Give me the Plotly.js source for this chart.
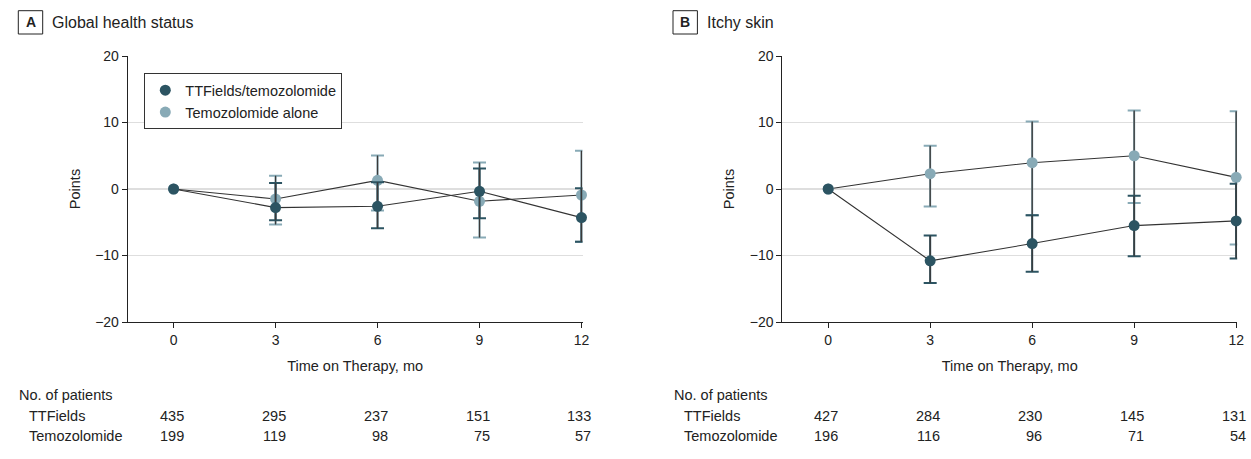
<!DOCTYPE html>
<html>
<head>
<meta charset="utf-8">
<script src="https://cdn.plot.ly/plotly-3.0.1.min.js"></script>
<style>
  html, body { margin: 0; padding: 0; background: #fff; }
  #chart { width: 1251px; height: 459px; }
</style>
</head>
<body>
<div id="chart"></div>
<script>
// ---------------- data ----------------
const months = [0, 3, 6, 9, 12];
const seriesNames = ['TTFields/temozolomide', 'Temozolomide alone'];
const panelLetters = ['A', 'B'];
const panelTitles = ['Global health status', 'Itchy skin'];
const rowLabels = ['TTFields', 'Temozolomide'];
const tableHeader = 'No. of patients';
const xTitle = 'Time on Therapy, mo';
const yTitle = 'Points';

// Panel A: Global health status (mean change, 95% CI ends)
const ghsTT      = [0, -2.8, -2.6, -0.35, -4.3];
const ghsTTUpper = [null, 0.9, 1.0, 3.1, 0.1];
const ghsTTLower = [null, -4.7, -5.9, -4.4, -7.95];
const ghsTMZ      = [0, -1.5, 1.3, -1.85, -0.9];
const ghsTMZUpper = [null, 2.0, 5.05, 4.0, 5.75];
const ghsTMZLower = [null, -5.35, -3.25, -7.3, -7.95];

// Panel B: Itchy skin
const itchTT      = [0, -10.8, -8.2, -5.5, -4.8];
const itchTTUpper = [null, -7.0, -3.95, -1.0, 0.8];
const itchTTLower = [null, -14.15, -12.45, -10.1, -10.45];
const itchTMZ      = [0, 2.3, 3.95, 5.0, 1.75];
const itchTMZUpper = [null, 6.5, 10.15, 11.8, 11.7];
const itchTMZLower = [null, -2.65, -3.95, -2.1, -8.35];

// Numbers at risk
const ghsNTT  = [435, 295, 237, 151, 133];
const ghsNTMZ = [199, 119, 98, 75, 57];
const itchNTT  = [427, 284, 230, 145, 131];
const itchNTMZ = [196, 116, 96, 71, 54];

// ---------------- style ----------------
const FONT = '"Liberation Sans", Arial, sans-serif';
const DARK = '#2c5462';
const LIGHT = '#88aab6';
const STEM = '#3a3a3a';
const TEXT = '#222222';
const W = 1251, H = 459;
const px = v => v / W;
const py = v => 1 - v / H;

const traces = [];

function addSeries(xa, ya, vals, upper, lower, color, name, showLegend, rank) {
  const xs = [], ys = [], plus = [], minus = [];
  months.forEach((m, i) => {
    if (upper[i] === null) return;
    xs.push(m); ys.push(vals[i]);
    plus.push(upper[i] - vals[i]);
    minus.push(vals[i] - lower[i]);
  });
  // caps (coloured)
  traces.push({
    x: xs, y: ys, xaxis: xa, yaxis: ya, type: 'scatter', mode: 'markers',
    marker: { size: 1, opacity: 0 }, showlegend: false, hoverinfo: 'skip',
    error_y: { type: 'data', symmetric: false, array: plus, arrayminus: minus,
               color: color, thickness: 2, width: 6.5 }
  });
  // stems (dark)
  traces.push({
    x: xs, y: ys, xaxis: xa, yaxis: ya, type: 'scatter', mode: 'markers',
    marker: { size: 1, opacity: 0 }, showlegend: false, hoverinfo: 'skip',
    error_y: { type: 'data', symmetric: false, array: plus, arrayminus: minus,
               color: STEM, thickness: 1.3, width: 0 }
  });
  // connecting line
  traces.push({
    x: months, y: vals, xaxis: xa, yaxis: ya, type: 'scatter', mode: 'lines',
    line: { color: '#333333', width: 1.1 }, showlegend: false, hoverinfo: 'skip'
  });
  // markers
  traces.push({
    x: months, y: vals, xaxis: xa, yaxis: ya, type: 'scatter', mode: 'markers',
    marker: { size: 11, color: color }, name: name, showlegend: showLegend,
    legendrank: rank, hoverinfo: 'skip', cliponaxis: false
  });
}

addSeries('x', 'y', ghsTMZ, ghsTMZUpper, ghsTMZLower, LIGHT, seriesNames[1], true, 2);
addSeries('x', 'y', ghsTT, ghsTTUpper, ghsTTLower, DARK, seriesNames[0], true, 1);
addSeries('x2', 'y2', itchTMZ, itchTMZUpper, itchTMZLower, LIGHT, seriesNames[1], false, 2);
addSeries('x2', 'y2', itchTT, itchTTUpper, itchTTLower, DARK, seriesNames[0], false, 1);

// ---------------- axes ----------------
const yDomain = [py(322), py(56)];
function xAxis(domain, anchor) {
  return {
    domain: domain, anchor: anchor, range: [-1.35, 12.03],
    tickvals: months, ticktext: months.map(String),
    ticks: 'outside', ticklen: 5, tickwidth: 1, tickcolor: '#222',
    showline: true, linecolor: '#222', linewidth: 1,
    showgrid: false, zeroline: false,
    tickfont: { family: FONT, size: 14, color: TEXT },
    title: { text: xTitle, font: { family: FONT, size: 14.5, color: TEXT }, standoff: 14 },
    fixedrange: true
  };
}
function yAxis(anchor) {
  return {
    domain: yDomain, anchor: anchor, range: [-20, 20],
    tickvals: [-20, -10, 0, 10, 20],
    ticks: 'outside', ticklen: 5, tickwidth: 1, tickcolor: '#222',
    showline: true, linecolor: '#222', linewidth: 1,
    showgrid: true, gridcolor: '#dedede', gridwidth: 1.3, zeroline: false,
    tickfont: { family: FONT, size: 14, color: TEXT },
    title: { text: yTitle, font: { family: FONT, size: 14.5, color: TEXT }, standoff: 11 },
    fixedrange: true
  };
}

// ---------------- annotations / shapes ----------------
const annotations = [];
const shapes = [];

function panelHeader(boxLeft, letter, title) {
  shapes.push({ type: 'rect', xref: 'paper', yref: 'paper',
    x0: px(boxLeft), x1: px(boxLeft + 24.4), y0: py(34), y1: py(10.7),
    line: { color: '#222', width: 1 }, fillcolor: 'rgba(0,0,0,0)' });
  annotations.push({ xref: 'paper', yref: 'paper', x: px(boxLeft + 12.2), y: py(22.3),
    xanchor: 'center', yanchor: 'middle', showarrow: false,
    text: '<b>' + letter + '</b>', font: { family: FONT, size: 14, color: TEXT } });
  annotations.push({ xref: 'paper', yref: 'paper', x: px(boxLeft + 32), y: py(22.3),
    xanchor: 'left', yanchor: 'middle', showarrow: false,
    text: title, font: { family: FONT, size: 16, color: TEXT } });
}
panelHeader(18.3, panelLetters[0], panelTitles[0]);
panelHeader(673, panelLetters[1], panelTitles[1]);

function riskTable(xref, left, nTT, nTMZ) {
  annotations.push({ xref: 'paper', yref: 'paper', x: px(left), y: py(395),
    xanchor: 'left', yanchor: 'middle', showarrow: false,
    text: tableHeader, font: { family: FONT, size: 14.5, color: TEXT } });
  [[rowLabels[0], nTT, 416], [rowLabels[1], nTMZ, 436]].forEach(([lab, arr, yy]) => {
    annotations.push({ xref: 'paper', yref: 'paper', x: px(left + 10), y: py(yy),
      xanchor: 'left', yanchor: 'middle', showarrow: false,
      text: lab, font: { family: FONT, size: 14.5, color: TEXT } });
    arr.forEach((n, i) => {
      annotations.push({ xref: xref, yref: 'paper', x: months[i], y: py(yy),
        xanchor: 'right', yanchor: 'middle', showarrow: false, xshift: 12,
        text: String(n), font: { family: FONT, size: 14.5, color: TEXT } });
    });
  });
}
riskTable('x', 17, ghsNTT, ghsNTMZ);
riskTable('x2', 672, itchNTT, itchNTMZ);

const layout = {
  width: W, height: H,
  margin: { l: 0, r: 0, t: 0, b: 0 },
  paper_bgcolor: '#fff', plot_bgcolor: '#fff',
  font: { family: FONT, color: TEXT },
  xaxis: xAxis([px(127.7), px(582.5)], 'y'),
  yaxis: yAxis('x'),
  xaxis2: xAxis([px(782.3), px(1237.2)], 'y2'),
  yaxis2: yAxis('x2'),
  showlegend: true,
  legend: {
    x: px(144.3), y: py(73.3), xanchor: 'left', yanchor: 'top',
    bordercolor: '#333', borderwidth: 1, bgcolor: '#fff',
    font: { family: FONT, size: 14.5, color: TEXT },
    traceorder: 'normal', itemclick: false, itemdoubleclick: false
  },
  annotations: annotations,
  shapes: shapes,
  hovermode: false
};

Plotly.newPlot('chart', traces, layout, { staticPlot: true, displayModeBar: false });
</script>
</body>
</html>
